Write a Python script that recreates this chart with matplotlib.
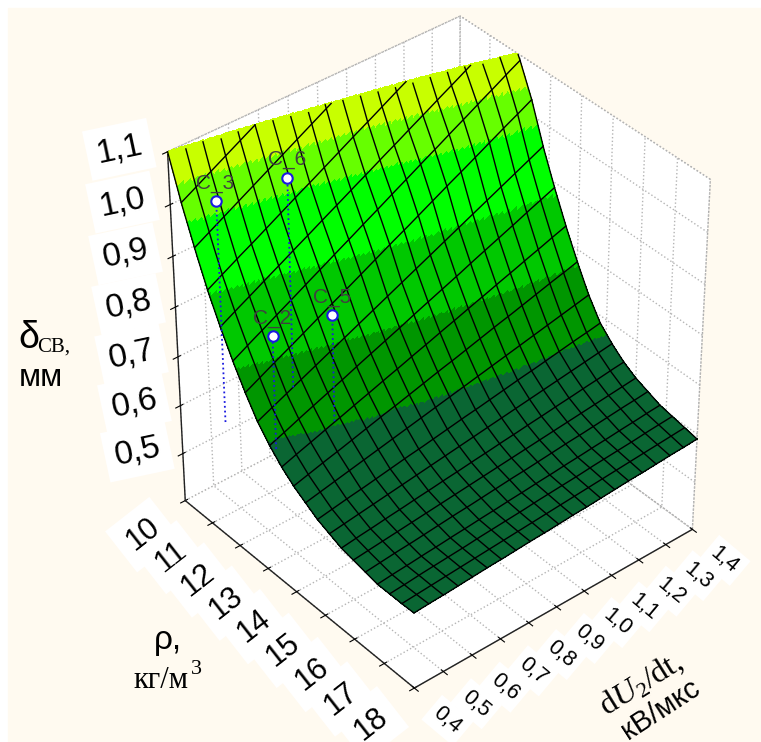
import numpy as np
import matplotlib
matplotlib.use('Agg')
import matplotlib.pyplot as plt

plt.rcParams['font.family'] = ['Liberation Sans']
plt.rcParams['mathtext.fontset'] = 'custom'
plt.rcParams['mathtext.rm'] = 'Liberation Serif'
plt.rcParams['mathtext.it'] = 'Liberation Serif:italic'

rho_nodes = [10 + 0.4 * i for i in range(21)]
du_nodes = [0.4 + 0.05 * i for i in range(21)]

# thickness, one row per rho node, one column per dU node
delta_table = [
    [1.10, 1.116, 1.132, 1.148, 1.164, 1.18, 1.196, 1.212, 1.228, 1.244, 1.26, 1.276, 1.292, 1.308, 1.324, 1.34, 1.356, 1.372, 1.388, 1.404, 1.42],
    [1.02, 1.036, 1.052, 1.068, 1.084, 1.10, 1.116, 1.132, 1.148, 1.164, 1.18, 1.196, 1.212, 1.228, 1.244, 1.26, 1.276, 1.292, 1.308, 1.324, 1.34],
    [.95, .966, .982, .998, 1.014, 1.03, 1.046, 1.062, 1.078, 1.094, 1.11, 1.126, 1.142, 1.158, 1.174, 1.19, 1.206, 1.222, 1.238, 1.254, 1.27],
    [.885, .901, .917, .932, .948, .964, .98, .995, 1.011, 1.027, 1.043, 1.058, 1.074, 1.09, 1.105, 1.121, 1.137, 1.153, 1.168, 1.184, 1.20],
    [.83, .846, .861, .877, .892, .908, .923, .939, .954, .97, .985, 1.001, 1.016, 1.032, 1.047, 1.063, 1.078, 1.094, 1.109, 1.125, 1.14],
    [.78, .796, .811, .827, .842, .858, .873, .889, .904, .92, .935, .951, .966, .982, .997, 1.013, 1.028, 1.044, 1.059, 1.075, 1.09],
    [.735, .75, .765, .779, .794, .809, .824, .838, .853, .868, .883, .897, .912, .927, .942, .956, .971, .986, 1.001, 1.015, 1.03],
    [.695, .708, .721, .734, .747, .76, .773, .786, .799, .812, .825, .838, .851, .864, .877, .89, .903, .916, .929, .942, .955],
    [.665, .676, .688, .699, .71, .721, .733, .744, .755, .766, .778, .789, .80, .811, .823, .834, .845, .856, .868, .879, .89],
    [.64, .65, .659, .669, .678, .688, .697, .707, .716, .726, .735, .745, .754, .764, .773, .783, .792, .802, .811, .821, .83],
    [.62, .628, .636, .643, .651, .659, .667, .674, .682, .69, .698, .705, .713, .721, .729, .736, .744, .752, .76, .767, .775],
    [.605, .611, .617, .623, .629, .635, .641, .647, .653, .659, .665, .671, .677, .683, .689, .695, .701, .707, .713, .719, .725],
    [.59, .595, .60, .604, .609, .614, .619, .623, .628, .633, .638, .642, .647, .652, .657, .661, .666, .671, .676, .68, .685],
    [.58, .584, .588, .592, .596, .60, .604, .608, .612, .616, .62, .624, .628, .632, .636, .64, .644, .648, .652, .656, .66],
    [.57, .574, .577, .581, .584, .588, .591, .595, .598, .602, .605, .609, .612, .616, .619, .623, .626, .63, .633, .637, .64],
    [.565, .568, .571, .574, .577, .58, .583, .586, .589, .592, .595, .598, .601, .604, .607, .61, .613, .616, .619, .622, .625],
    [.56, .563, .566, .568, .571, .574, .577, .579, .582, .585, .588, .59, .593, .596, .599, .601, .604, .607, .61, .612, .615],
    [.555, .558, .56, .563, .565, .568, .57, .573, .575, .578, .58, .583, .585, .588, .59, .593, .595, .598, .60, .603, .605],
    [.555, .557, .56, .562, .564, .566, .569, .571, .573, .575, .578, .58, .582, .584, .587, .589, .591, .593, .596, .598, .60],
    [.555, .557, .559, .561, .563, .565, .567, .569, .571, .573, .575, .577, .579, .581, .583, .585, .587, .589, .591, .593, .595],
    [.556, .558, .559, .561, .563, .565, .566, .568, .57, .571, .573, .575, .576, .578, .58, .582, .583, .585, .587, .588, .59],
]

band_levels = [.67, .77, .88, .99, 1.05]
band_colors = ['#0a6633', '#009600', '#00c800', '#00ff00', '#66ff00', '#c8ff00']

point_names = ['C_3', 'C_6', 'C_2', 'C_5']
point_rho = [10, 10, 11.2, 11.27]
point_du = [0.55, 0.79, 0.61, 0.81]
point_delta = [0.965, 0.945, 0.733, 0.72]
point_floor = [0.52, 0.52, 0.5, 0.5]

rho_ticks = [10, 11, 12, 13, 14, 15, 16, 17, 18]
du_ticks = [.4, .5, .6, .7, .8, .9, 1.0, 1.1, 1.2, 1.3, 1.4]
delta_ticks = [.5, .6, .7, .8, .9, 1.0, 1.1]
z_top = 1.1


def comma(values, digits=1):
    return [f'{v:.{digits}f}'.replace('.', ',') for v in values]


def refine(table, rows, cols, n):
    # finer copy of the table, only so the colour bands get smooth edges
    fine_r = np.linspace(rows[0], rows[-1], (len(rows) - 1) * n + 1)
    fine_c = np.linspace(cols[0], cols[-1], (len(cols) - 1) * n + 1)
    tmp = np.array([np.interp(fine_c, cols, row) for row in table])
    out = np.array([np.interp(fine_r, rows, tmp[:, j]) for j in range(len(fine_c))]).T
    return fine_r, fine_c, out


fig = plt.figure(figsize=(7.61, 7.42), dpi=100, facecolor='white')
fig.patches.append(plt.Rectangle((8 / 761, 0), 753 / 761, 734 / 742, transform=fig.transFigure, color='#fffaf0', zorder=-5))
ax = fig.add_axes([0.062, 0.02, 1, 1], projection='3d', computed_zorder=False, facecolor='none')
ax.set_proj_type('persp', focal_length=1.0)
ax.view_init(elev=38, azim=-40)
ax.set_box_aspect((1, 1, 1.19), zoom=0.9)
ax.set_xlim(10, 18)
ax.set_ylim(0.4, 1.4)
ax.set_zlim(0.4, z_top)

n = 12
fr, fc, fz = refine(delta_table, rho_nodes, du_nodes, n)
FX, FY = np.meshgrid(fr, fc, indexing='ij')
cells = (fz[:-1, :-1] + fz[1:, :-1] + fz[:-1, 1:] + fz[1:, 1:]) / 4
rgba = np.array([matplotlib.colors.to_rgba(c) for c in band_colors])[np.digitize(cells, band_levels)]
corner_min = np.minimum.reduce([fz[:-1, :-1], fz[1:, :-1], fz[:-1, 1:], fz[1:, 1:]])
rgba[corner_min >= z_top, 3] = 0
ax.plot_surface(FX, FY, np.minimum(fz, z_top), facecolors=rgba, rstride=1, cstride=1, linewidth=0, antialiased=False, shade=False)

shown = np.where(fz > z_top, np.nan, fz)
for i in range(len(rho_nodes)):
    ax.plot(FX[i * n, :], FY[i * n, :], shown[i * n, :], color='black', lw=1.0)
for j in range(len(du_nodes)):
    ax.plot(FX[:, j * n], FY[:, j * n], shown[:, j * n], color='black', lw=1.0)

for name, r, d, z, z0 in zip(point_names, point_rho, point_du, point_delta, point_floor):
    ax.plot([r, r], [d, d], [z0, z], color='#1a1ae0', ls=':', lw=1.3)
    ax.plot([r], [d], [z], 'o', mfc='white', mec='#1a1ae0', mew=1.5, ms=7.5)
    ax.text(r, d, z + 0.035, name, color='#404040', fontsize=15, ha='center', va='center')

for axis in (ax.xaxis, ax.yaxis, ax.zaxis):
    axis.set_pane_color('white')
    axis.pane.set_edgecolor('#aaaaaa')
    axis.pane.set_linestyle(':')
    axis._axinfo['grid'].update(color='#b5b5b5', linestyle=':', linewidth=1.0)
    axis.line.set_color('#222222')
    axis.line.set_linewidth(1.0)

ax.set_xticks(rho_ticks)
ax.set_xticklabels([str(v) for v in rho_ticks], fontsize=22, rotation=38, ha='right', va='center',
                   bbox=dict(facecolor='white', edgecolor='none', pad=8))
ax.set_yticks(du_ticks)
ax.set_yticklabels(comma(du_ticks), fontsize=15.5, rotation=-40, ha='left', va='center',
                   bbox=dict(facecolor='white', edgecolor='none', pad=4))
ax.set_zticks(delta_ticks)
ax.set_zticklabels(comma(delta_ticks), fontsize=24, rotation=12, ha='center', va='center',
                   bbox=dict(facecolor='white', edgecolor='none', pad=7))
ax.zaxis.set_ticks_position('lower')
ax.tick_params(axis='x', pad=12)
ax.tick_params(axis='y', pad=9)
ax.tick_params(axis='z', pad=17)

fig.text(18 / 761, 1 - 338 / 742, 'δ', fontsize=27, ha='left', va='center')
fig.text(37 / 761, 1 - 347 / 742, 'СВ,', fontsize=15, family='Liberation Serif', ha='left', va='center')
fig.text(41 / 761, 1 - 378 / 742, 'мм', fontsize=23, ha='center', va='center')
fig.text(168 / 761, 1 - 640 / 742, 'ρ,', fontsize=24, ha='center', va='center')
fig.text(133 / 761, 1 - 681 / 742, 'кг/м', fontsize=22, family='Liberation Serif', ha='left', va='center')
fig.text(196 / 761, 1 - 669 / 742, '3', fontsize=16, family='Liberation Serif', ha='center', va='center')
fig.text(641 / 761, 1 - 684 / 742, r'd$\mathit{U}_{2}$/dt,', fontsize=23, family='Liberation Serif', rotation=32, ha='center', va='center')
fig.text(661 / 761, 1 - 709 / 742, 'кВ/мкс', fontsize=21, rotation=33, ha='center', va='center')

fig.savefig('out.png', dpi=100, facecolor=fig.get_facecolor())
